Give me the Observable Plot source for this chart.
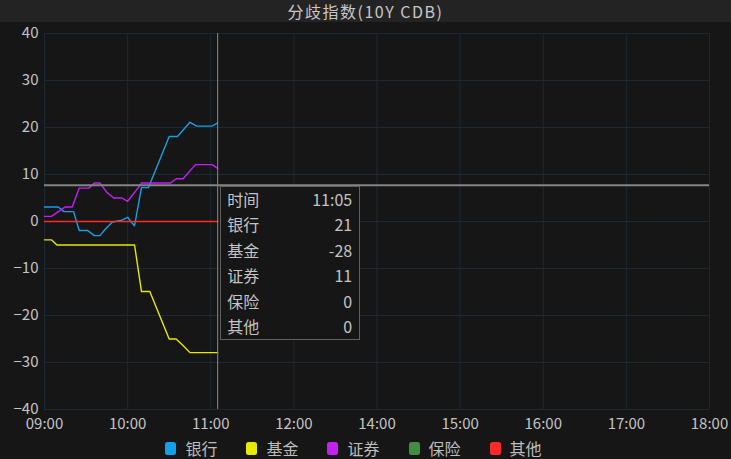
<!DOCTYPE html>
<html>
<head>
<meta charset="utf-8">
<script src="https://cdn.jsdelivr.net/npm/d3@7"></script>
<script src="https://cdn.jsdelivr.net/npm/@observablehq/plot@0.6"></script>
<style>
  html, body { margin: 0; padding: 0; background: #161616; width: 731px; height: 459px; overflow: hidden; }
  body { font-family: "Noto Sans CJK SC", "Noto Sans", sans-serif; color: #c4c4c4; }
  #title { height: 22px; line-height: 22px; background: #232323; text-align: center; font-size: 16px; letter-spacing: 1.5px; color: #c8c8c8; }
  #wrap { position: relative; width: 731px; height: 415px; }
  #legend { display: flex; justify-content: center; align-items: center; height: 22px; font-size: 16px; color: #bdbdbd; padding-right: 24px; }
  .item { display: flex; align-items: center; margin: 0 14.5px; }
  .sw { width: 11px; height: 13px; border-radius: 2.5px; margin-right: 9px; }
  #tip { position: absolute; box-sizing: border-box; width: 140px; height: 154px; border: 1.5px solid #5f5f5f; background: rgba(22,22,22,0.9); font-size: 16px; color: #c4c4c4; }
  .row { display: flex; justify-content: space-between; height: 25.5px; line-height: 25.5px; padding: 0 7px 0 6px; }
</style>
</head>
<body>
<div id="title">分歧指数(10Y CDB)</div>
<div id="wrap"></div>
<div id="legend"></div>
<script>
// ---- data ----
const tickLabels = ["09:00","10:00","11:00","12:00","14:00","15:00","16:00","17:00","18:00"];
const yTicks = [-40,-30,-20,-10,0,10,20,30,40];

const seriesNames = ["银行","基金","证券","保险","其他"];
const seriesColors = ["#13a0e8","#e8e800","#c41ff5","#3f8f3f","#ff2b2b"];

const bankTimes  = ["09:00","09:10","09:14","09:21","09:25","09:31","09:36","09:40","09:44","09:49","09:55","10:00","10:02","10:05","10:10","10:15","10:30","10:36","10:45","10:50","11:01","11:05"];
const bankValues = [3.1,3.1,2.1,2.1,-1.9,-1.9,-3.0,-3.0,-1.6,-0.1,0.2,0.9,0.1,-0.9,7.2,7.2,18.1,18.1,21.1,20.3,20.3,21.0];

const fundTimes  = ["09:00","09:05","09:09","10:05","10:10","10:16","10:30","10:35","10:40","10:45","11:05"];
const fundValues = [-3.9,-3.9,-5.0,-5.0,-14.9,-14.9,-25.0,-25.0,-26.4,-27.9,-27.9];

const secTimes   = ["09:00","09:05","09:15","09:20","09:25","09:32","09:36","09:40","09:45","09:50","09:56","10:00","10:09","10:10","10:31","10:35","10:40","10:49","11:01","11:05"];
const secValues  = [1.1,1.1,3.1,3.1,7.1,7.1,8.2,8.2,6.2,5.0,5.0,4.3,7.7,8.2,8.2,9.1,9.1,12.1,12.1,11.3];

const insTimes   = ["09:00","11:05"];
const insValues  = [0,0];

const otherTimes  = ["09:00","11:05"];
const otherValues = [0,0];

const cursorTime = "11:05";
const cursorValue = 7.7;

// ---- helpers ----
function pos(t) {
  const [h, m] = t.split(":").map(Number);
  return h <= 12 ? (h - 9) + m / 60 : (h - 14) + 4 + m / 60;
}
const tickPos = tickLabels.map(pos);

const seriesTimes = [bankTimes, fundTimes, secTimes, insTimes, otherTimes];
const seriesValues = [bankValues, fundValues, secValues, insValues, otherValues];
const seriesWidths = [1.4, 1.4, 1.4, 1, 1.5];

const lineMarks = seriesNames.map((name, i) => {
  const data = seriesTimes[i].map((t, j) => ({x: pos(t), v: seriesValues[i][j]}));
  return Plot.line(data, {x: "x", y: "v", stroke: seriesColors[i], strokeWidth: seriesWidths[i]});
});

const chart = Plot.plot({
  width: 731,
  height: 415,
  marginLeft: 44,
  marginRight: 22,
  marginTop: 11,
  marginBottom: 28,
  style: { background: "#161616", color: "#c4c4c4", fontSize: "15px", fontFamily: "'Noto Sans CJK SC', 'Noto Sans', sans-serif" },
  x: { type: "linear", domain: [0, 8], label: null },
  y: { domain: [-40, 40], label: null },
  marks: [
    Plot.gridX(tickPos, { stroke: "#1b2835", strokeOpacity: 1, strokeWidth: 1 }),
    Plot.gridY(yTicks, { stroke: "#1b2835", strokeOpacity: 1, strokeWidth: 1 }),
    Plot.axisX(tickPos, { tickSize: 0, tickPadding: 9, tickFormat: (d, i) => tickLabels[i], fontSize: 15, fill: "#c4c4c4", label: null }),
    Plot.axisY(yTicks, { tickSize: 0, tickPadding: 6, fontSize: 15, fill: "#c4c4c4", label: null }),
    ...lineMarks,
    Plot.ruleX([pos(cursorTime)], { stroke: "#8a8a8a", strokeWidth: 1 }),
    Plot.ruleY([cursorValue], { stroke: "#858585", strokeWidth: 2 })
  ]
});

document.getElementById("wrap").appendChild(chart);

// tooltip anchored to cursor via the chart's scales
const px = chart.scale("x").apply(pos(cursorTime));
const py = chart.scale("y").apply(cursorValue);
const tip = document.createElement("div");
tip.id = "tip";
tip.style.left = (px + 3) + "px";
tip.style.top = (py + 1) + "px";
const rows = [["时间", cursorTime]].concat(seriesNames.map((n, i) => {
  const vals = seriesValues[i];
  return [n, String(Math.round(vals[vals.length - 1]))];
}));
tip.innerHTML = rows.map(r => `<div class="row"><span>${r[0]}</span><span>${r[1]}</span></div>`).join("");
document.getElementById("wrap").appendChild(tip);

// legend
document.getElementById("legend").innerHTML = seriesNames.map((n, i) =>
  `<div class="item"><div class="sw" style="background:${seriesColors[i]}"></div><span>${n}</span></div>`).join("");
</script>
</body>
</html>
